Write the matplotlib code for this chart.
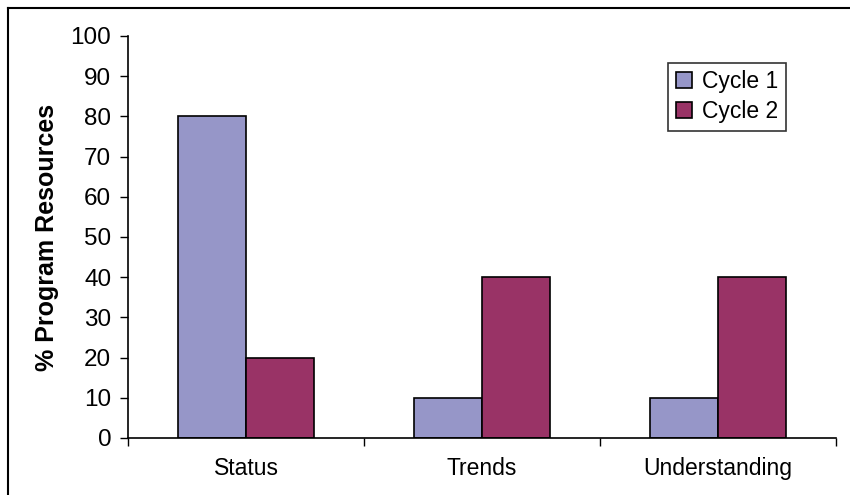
import matplotlib.pyplot as plt
from matplotlib.lines import Line2D
import numpy as np

plt.rcParams['font.family'] = ['Liberation Sans', 'DejaVu Sans']

categories = ['Status', 'Trends', 'Understanding']
cycle1 = [80, 10, 10]
cycle2 = [20, 40, 40]
series_names = ['Cycle 1', 'Cycle 2']
yticks = list(range(0, 101, 10))

fig = plt.figure(figsize=(8.5, 4.95), dpi=100)
ax = fig.add_axes([0.1506, 0.1152, 0.8329, 0.8121])

x = np.arange(len(categories))
w = 0.288
ax.bar(x - w / 2, cycle1, w, color='#9696C8', edgecolor='black', linewidth=1.2, label=series_names[0])
ax.bar(x + w / 2, cycle2, w, color='#993366', edgecolor='black', linewidth=1.2, label=series_names[1])

ax.set_xlim(-0.5, len(categories) - 0.5)
ax.set_ylim(0, 100)
ax.set_yticks(yticks)
ax.set_xticks(x)
ax.set_xticklabels(categories)
ax.set_xticks(np.arange(len(categories) + 1) - 0.5, minor=True)

ax.tick_params(axis='y', direction='out', length=6, width=1, pad=6, labelsize=17.5)
ax.tick_params(axis='x', which='major', length=0, pad=13.5, labelsize=16.5)
ax.tick_params(axis='x', which='minor', direction='out', length=6, width=1)

for side in ['top', 'right']:
    ax.spines[side].set_visible(False)
for side in ['left', 'bottom']:
    ax.spines[side].set_linewidth(1.2)

ax.set_ylabel('% Program Resources', fontsize=18, fontweight='bold', labelpad=8)

leg = ax.legend(loc='upper left', bbox_to_anchor=(0.763, 0.933), borderaxespad=0,
                fontsize=16.5, frameon=True, fancybox=False, edgecolor='black',
                handlelength=0.7, handleheight=0.7, handletextpad=0.45,
                labelspacing=0.3, borderpad=0.33)
leg.get_frame().set_linewidth(1.2)

# outer chart-area border (top and left edges only fall inside the image)
fig.add_artist(Line2D([8 / 850, 1.0], [1 - 8 / 495, 1 - 8 / 495], color='black', linewidth=1.5,
                      transform=fig.transFigure))
fig.add_artist(Line2D([8 / 850, 8 / 850], [0.0, 1 - 8 / 495], color='black', linewidth=1.5,
                      transform=fig.transFigure))

fig.savefig('out.png', dpi=100)
